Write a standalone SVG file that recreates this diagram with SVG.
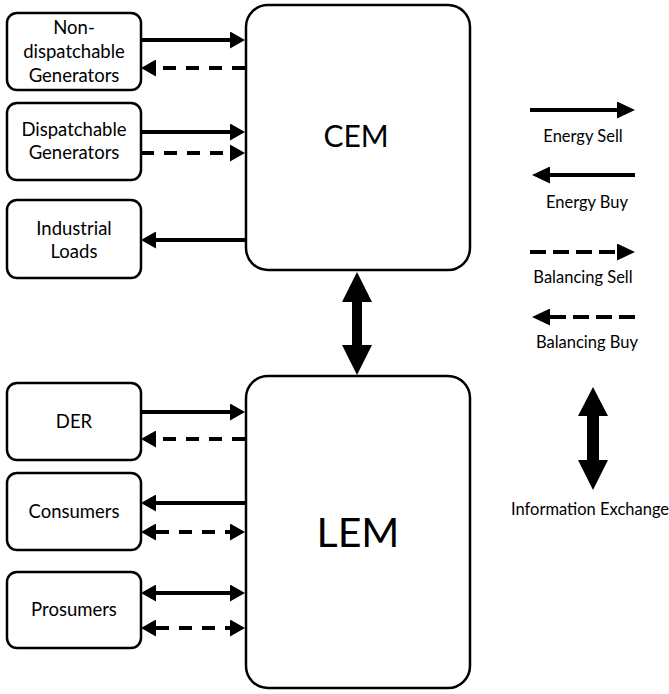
<svg xmlns="http://www.w3.org/2000/svg" width="669" height="694" viewBox="0 0 669 694">
<style>
.box{fill:#fff;stroke:#000;stroke-width:2.5}
.t{font-family:Lato,"Liberation Sans",sans-serif;font-size:18.5px;fill:#000;text-anchor:middle}
.lt{font-family:Lato,"Liberation Sans",sans-serif;font-size:16.5px;fill:#000;text-anchor:middle}
.big{font-family:Lato,"Liberation Sans",sans-serif;fill:#000;text-anchor:middle}
.s{stroke:#000;stroke-width:4;fill:none}
.d{stroke:#000;stroke-width:4;fill:none;stroke-dasharray:13 10}
.ld{stroke:#000;stroke-width:4;fill:none;stroke-dasharray:16 7}
</style>
<defs>
<marker id="ah" markerUnits="userSpaceOnUse" viewBox="0 0 15 17" markerWidth="15" markerHeight="17" refX="0" refY="8.5" orient="auto-start-reverse">
<path d="M0,0 L15,8.5 L0,17 z" fill="#000"/>
</marker>
<marker id="lah" markerUnits="userSpaceOnUse" viewBox="0 0 18 17" markerWidth="18" markerHeight="17" refX="0" refY="8.5" orient="auto-start-reverse">
<path d="M0,0 L18,8.5 L0,17 z" fill="#000"/>
</marker>
</defs>

<g id="nondisp"><rect class="box" x="7" y="13" width="134" height="77" rx="10"/>
<text class="t" x="74" y="34">Non-</text><text class="t" x="74" y="58">dispatchable</text><text class="t" x="74" y="82">Generators</text></g>
<g id="disp"><rect class="box" x="7" y="103" width="134" height="77" rx="10"/>
<text class="t" x="74" y="136">Dispatchable</text><text class="t" x="74" y="159">Generators</text></g>
<g id="indload"><rect class="box" x="7" y="200" width="134" height="78" rx="10"/>
<text class="t" x="74" y="235">Industrial</text><text class="t" x="74" y="258">Loads</text></g>
<g id="der"><rect class="box" x="7" y="383" width="134" height="77" rx="10"/>
<text class="t" x="74" y="428">DER</text></g>
<g id="consumers"><rect class="box" x="7" y="473" width="134" height="77" rx="10"/>
<text class="t" x="74" y="518">Consumers</text></g>
<g id="prosumers"><rect class="box" x="7" y="572" width="134" height="76" rx="10"/>
<text class="t" x="74" y="616">Prosumers</text></g>
<g id="cem"><rect class="box" x="246" y="5" width="224" height="265" rx="22"/>
<text class="big" x="356" y="147" font-size="30">CEM</text></g>
<g id="lem"><rect class="box" x="246" y="376" width="224" height="312" rx="22"/>
<text class="big" x="358" y="547" font-size="41">LEM</text></g>

<g id="connectors">
<line class="s" x1="141" y1="40" x2="230" y2="40" marker-end="url(#ah)"/>
<line class="d" x1="245" y1="68" x2="156" y2="68" marker-end="url(#ah)"/>
<line class="s" x1="141" y1="132" x2="230" y2="132" marker-end="url(#ah)"/>
<line class="d" x1="141" y1="153" x2="230" y2="153" marker-end="url(#ah)"/>
<line class="s" x1="245" y1="240" x2="156" y2="240" marker-end="url(#ah)"/>
<line class="s" x1="141" y1="412" x2="230" y2="412" marker-end="url(#ah)"/>
<line class="d" x1="245" y1="439" x2="156" y2="439" marker-end="url(#ah)"/>
<line class="s" x1="245" y1="503" x2="156" y2="503" marker-end="url(#ah)"/>
<line class="d" x1="156" y1="532" x2="230" y2="532" marker-start="url(#ah)" marker-end="url(#ah)"/>
<line class="s" x1="156" y1="593" x2="230" y2="593" marker-start="url(#ah)" marker-end="url(#ah)"/>
<line class="d" x1="156" y1="628" x2="230" y2="628" marker-start="url(#ah)" marker-end="url(#ah)"/>
<polygon points="357,272 372,302 362,302 362,345 372,345 357,375 342,345 352,345 352,302 342,302" fill="#000"/>
</g>

<g id="legend">
<line class="s" x1="530" y1="110" x2="617" y2="110" marker-end="url(#lah)"/>
<text class="lt" x="583" y="142">Energy Sell</text>
<line class="s" x1="635" y1="175" x2="550" y2="175" marker-end="url(#lah)"/>
<text class="lt" x="587" y="208">Energy Buy</text>
<line class="ld" x1="530" y1="252" x2="617" y2="252" marker-end="url(#lah)"/>
<text class="lt" x="583" y="283">Balancing Sell</text>
<line class="ld" x1="635" y1="317" x2="550" y2="317" marker-end="url(#lah)"/>
<text class="lt" x="587" y="348">Balancing Buy</text>
<polygon points="593,387 608,416 599,416 599,460 608,460 593,490 578,460 587,460 587,416 578,416" fill="#000"/>
<text class="lt" x="590" y="515">Information Exchange</text>
</g>
</svg>
